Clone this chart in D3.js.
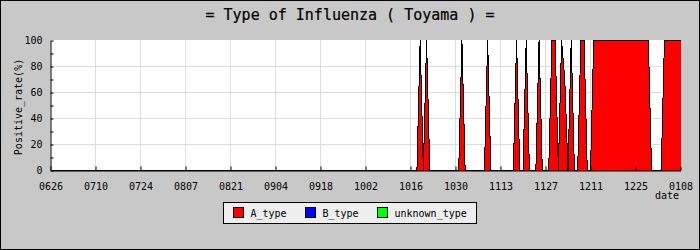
<!DOCTYPE html>
<html>
<head>
<meta charset="utf-8">
<script src="https://cdn.jsdelivr.net/npm/d3@7"></script>
<style>
  body { margin: 0; background: #c8c8c8; }
  text { font-family: "DejaVu Sans Mono", monospace; }
</style>
</head>
<body>
<div id="chart"></div>
<script>
// daily positive rate (%) from 0626, one row = two weeks
var startDate = "20080626";
var A_type = [
  0,0,0,0,0,0,0,0,0,0,0,0,0,0,
  0,0,0,0,0,0,0,0,0,0,0,0,0,0,
  0,0,0,0,0,0,0,0,0,0,0,0,0,0,
  0,0,0,0,0,0,0,0,0,0,0,0,0,0,
  0,0,0,0,0,0,0,0,0,0,0,0,0,0,
  0,0,0,0,0,0,0,0,0,0,0,0,0,0,
  0,0,0,0,0,0,0,0,0,0,0,0,0,0,
  0,0,0,0,0,0,0,0,0,0,0,0,0,0,
  0,0,0,100,0,100,0,0,0,0,0,0,0,0,
  0,0,100,0,0,0,0,0,0,0,100,0,0,0,
  0,0,0,0,0,100,0,0,100,0,0,0,100,0,
  0,0,100,100,0,100,70,0,100,0,0,100,100,0,
  0,100,100,100,100,100,100,100,100,100,100,100,100,100,
  100,100,100,100,100,0,0,0,0,100,100,100,100,100,
  100
];
var B_type = [
  0,0,0,0,0,0,0,0,0,0,0,0,0,0,
  0,0,0,0,0,0,0,0,0,0,0,0,0,0,
  0,0,0,0,0,0,0,0,0,0,0,0,0,0,
  0,0,0,0,0,0,0,0,0,0,0,0,0,0,
  0,0,0,0,0,0,0,0,0,0,0,0,0,0,
  0,0,0,0,0,0,0,0,0,0,0,0,0,0,
  0,0,0,0,0,0,0,0,0,0,0,0,0,0,
  0,0,0,0,0,0,0,0,0,0,0,0,0,0,
  0,0,0,0,0,0,0,0,0,0,0,0,0,0,
  0,0,0,0,0,0,0,0,0,0,0,0,0,0,
  0,0,0,0,0,0,0,0,0,0,0,0,0,0,
  0,0,0,0,0,0,0,0,0,0,0,0,0,0,
  0,0,0,0,0,0,0,0,0,0,0,0,0,0,
  0,0,0,0,0,0,0,0,0,0,0,0,0,0,
  0
];
var unknown_type = [
  0,0,0,0,0,0,0,0,0,0,0,0,0,0,
  0,0,0,0,0,0,0,0,0,0,0,0,0,0,
  0,0,0,0,0,0,0,0,0,0,0,0,0,0,
  0,0,0,0,0,0,0,0,0,0,0,0,0,0,
  0,0,0,0,0,0,0,0,0,0,0,0,0,0,
  0,0,0,0,0,0,0,0,0,0,0,0,0,0,
  0,0,0,0,0,0,0,0,0,0,0,0,0,0,
  0,0,0,0,0,0,0,0,0,0,0,0,0,0,
  0,0,0,0,0,0,0,0,0,0,0,0,0,0,
  0,0,0,0,0,0,0,0,0,0,0,0,0,0,
  0,0,0,0,0,0,0,0,0,0,0,0,0,0,
  0,0,0,0,0,0,0,0,0,0,0,0,0,0,
  0,0,0,0,0,0,0,0,0,0,0,0,0,0,
  0,0,0,0,0,0,0,0,0,0,0,0,0,0,
  0
];
var seriesNames = ["A_type", "B_type", "unknown_type"];
var seriesColors = ["#ff0000", "#0000ff", "#00ff00"];
var xTickLabels = ["0626","0710","0724","0807","0821","0904","0918","1002",
                   "1016","1030","1113","1127","1211","1225","0108"];
var yTicks = [0, 20, 40, 60, 80, 100];
var yMinorTicks = [10, 30, 50, 70, 90];

var width = 700, height = 250;
var parse = d3.utcParse("%Y%m%d");
var start = parse(startDate);

// build the rows for the stack
var rows = A_type.map(function(v, i) {
  return {
    date: d3.utcDay.offset(start, i),
    A_type: v,
    B_type: B_type[i],
    unknown_type: unknown_type[i]
  };
});
// tick labels -> dates (labels before June belong to next year)
var xTicks = xTickLabels.map(function(l) {
  return parse((l < "0626" ? "2009" : "2008") + l);
});

var svg = d3.select("#chart").append("svg")
  .attr("width", width)
  .attr("height", height);

svg.append("rect")
  .attr("x", 0.5).attr("y", 0.5)
  .attr("width", width - 1).attr("height", height - 1)
  .attr("fill", "#c8c8c8")
  .attr("stroke", "#000");

var x = d3.scaleUtc()
  .domain([start, rows[rows.length - 1].date])
  .range([50.5, 680.5]);
var y = d3.scaleLinear()
  .domain([0, 100])
  .range([170.5, 40.5]);

// plot background
svg.append("rect")
  .attr("x", x.range()[0]).attr("y", 40)
  .attr("width", x.range()[1] - x.range()[0])
  .attr("height", 130.5)
  .attr("fill", "#fff");

// grid
svg.append("g")
  .selectAll("line")
  .data(yTicks.slice(1, -1))
  .join("line")
    .attr("x1", x.range()[0]).attr("x2", x.range()[1])
    .attr("y1", function(d) { return y(d); })
    .attr("y2", function(d) { return y(d); })
    .attr("stroke", "#dcdcdc");
svg.append("g")
  .selectAll("line")
  .data(xTicks.slice(1, -1))
  .join("line")
    .attr("x1", function(d) { return x(d); })
    .attr("x2", function(d) { return x(d); })
    .attr("y1", 40).attr("y2", 170)
    .attr("stroke", "#dcdcdc");

// stacked areas: fill first, outline on top
var stack = d3.stack().keys(seriesNames);
var layers = stack(rows);
var area = d3.area()
  .x(function(d) { return x(d.data.date); })
  .y0(function(d) { return y(d[0]); })
  .y1(function(d) { return y(d[1]); });

var areas = svg.append("g");
areas.selectAll("path.fill")
  .data(layers)
  .join("path")
    .attr("class", "fill")
    .attr("d", area)
    .attr("fill", function(d, i) { return seriesColors[i]; })
    .style("shape-rendering", "crispEdges");
areas.selectAll("path.edge")
  .data(layers)
  .join("path")
    .attr("class", "edge")
    .attr("d", area.lineY1())
    .attr("fill", "none")
    .attr("stroke", "#000")
    .attr("stroke-width", 1)
    .style("shape-rendering", "crispEdges");

// y axis
svg.append("g")
  .attr("transform", "translate(" + x.range()[0] + ",0)")
  .call(d3.axisLeft(y).tickValues(yTicks).tickSize(-3).tickSizeOuter(0).tickPadding(8));
svg.append("g")
  .attr("transform", "translate(" + x.range()[0] + ",0)")
  .call(d3.axisLeft(y).tickValues(yMinorTicks).tickSize(-3).tickSizeOuter(0).tickFormat(""))
  .select(".domain").remove();

// x axis
svg.append("g")
  .attr("transform", "translate(0," + y.range()[0] + ")")
  .call(d3.axisBottom(x).tickValues(xTicks).tickSize(-4).tickSizeOuter(0)
        .tickPadding(12).tickFormat(function(d, i) { return xTickLabels[i]; }));

svg.selectAll(".tick text")
  .attr("fill", "#000")
  .style("font-family", "DejaVu Sans Mono")
  .style("font-size", "10px");
svg.selectAll(".domain, .tick line").attr("stroke", "#000");

// labels
svg.append("text")
  .attr("x", 350).attr("y", 20)
  .attr("text-anchor", "middle")
  .style("font-size", "15px")
  .style("stroke", "#000")
  .style("stroke-width", 0.2)
  .text("= Type of Influenza ( Toyama ) =");

svg.append("text")
  .attr("transform", "translate(22,107) rotate(-90)")
  .attr("text-anchor", "middle")
  .style("font-size", "10px")
  .text("Positive_rate(%)");

svg.append("text")
  .attr("x", 679).attr("y", 199)
  .attr("text-anchor", "end")
  .style("font-size", "10px")
  .text("date");

// legend
var legend = svg.append("g");
legend.append("rect")
  .attr("x", 223.5).attr("y", 202.5)
  .attr("width", 253).attr("height", 21)
  .attr("fill", "#eeeeee")
  .attr("stroke", "#000");

var lx = 233.5;
seriesNames.forEach(function(name, i) {
  legend.append("rect")
    .attr("x", lx).attr("y", 207.5)
    .attr("width", 10).attr("height", 10)
    .attr("fill", seriesColors[i])
    .attr("stroke", "#000");
  legend.append("text")
    .attr("x", lx + 17).attr("y", 216.5)
    .style("font-size", "10px")
    .text(name);
  lx += 17 + name.length * 6 + 19;
});
</script>
</body>
</html>
